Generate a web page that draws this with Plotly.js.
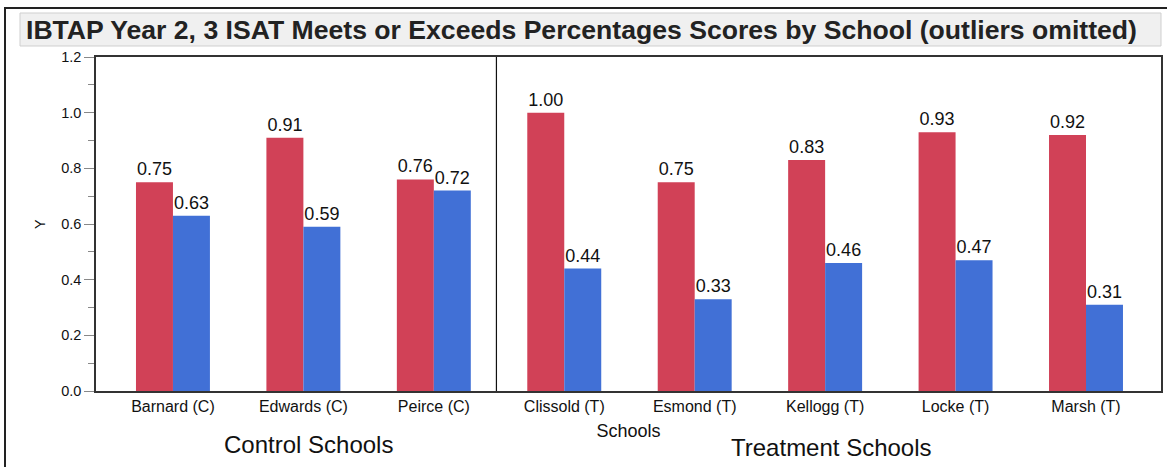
<!DOCTYPE html>
<html>
<head>
<meta charset="utf-8">
<script src="https://cdn.plot.ly/plotly-3.0.1.min.js"></script>
<style>html,body{margin:0;padding:0;background:#fff;}#chart{width:1167px;height:467px;}</style>
</head>
<body>
<div id="chart"></div>
<script>
const schools = ["Barnard (C)", "Edwards (C)", "Peirce (C)", "Clissold (T)", "Esmond (T)", "Kellogg (T)", "Locke (T)", "Marsh (T)"];
const year2 = [0.75, 0.91, 0.76, 1.00, 0.75, 0.83, 0.93, 0.92];
const year3 = [0.63, 0.59, 0.72, 0.44, 0.33, 0.46, 0.47, 0.31];
const yTicks = [0, 0.2, 0.4, 0.6, 0.8, 1.0, 1.2];

const FONT = "Liberation Sans, Arial, Helvetica, sans-serif";

const traces = [
  {type: "bar", name: "Year 2", x: schools, y: year2, marker: {color: "#D14157"},
   texttemplate: "%{y:.2f}", textposition: "outside", cliponaxis: false, constraintext: "none",
   textfont: {family: FONT, size: 18, color: "#111"}, hoverinfo: "x+y"},
  {type: "bar", name: "Year 3", x: schools, y: year3, marker: {color: "#4170D6"},
   texttemplate: "%{y:.2f}", textposition: "outside", cliponaxis: false, constraintext: "none",
   textfont: {family: FONT, size: 18, color: "#111"}, hoverinfo: "x+y"}
];

const layout = {
  width: 1167, height: 467,
  margin: {l: 96, r: 6, t: 57, b: 76, pad: 0},
  paper_bgcolor: "#fff", plot_bgcolor: "#fff",
  font: {family: FONT, size: 14, color: "#111"},
  showlegend: false,
  barmode: "group", bargap: 0.433, bargroupgap: 0,
  title: {text: "<b>IBTAP Year 2, 3 ISAT Meets or Exceeds Percentages Scores by School (outliers omitted)</b>",
          font: {family: FONT, size: 26.6, color: "#222"},
          x: 26/1167, xanchor: "left", y: 1 - 30/467, yanchor: "middle"},
  xaxis: {type: "category", range: [-0.59, 7.575], showgrid: false, zeroline: false,
          showline: true, linecolor: "#333", linewidth: 1.5, mirror: true, ticks: "",
          tickfont: {family: FONT, size: 16, color: "#111"},
          title: {text: "Schools", font: {family: FONT, size: 18, color: "#111"}, standoff: 10}},
  yaxis: {range: [0, 1.2], tickvals: yTicks, tickformat: ".1f", showgrid: false, zeroline: false,
          showline: true, linecolor: "#333", linewidth: 1.5, mirror: true,
          ticks: "outside", ticklen: 10, tickcolor: "#888", tickwidth: 1,
          minor: {dtick: 0.1, ticks: "outside", ticklen: 6, tickcolor: "#888", tickwidth: 1},
          tickfont: {family: FONT, size: 14.5, color: "#111"},
          title: {text: ""}},
  shapes: [
    {type: "rect", xref: "paper", yref: "paper",
     x0: (5 - 96) / 1065, x1: (1175 - 96) / 1065, y0: (391 - 475) / 334, y1: (391 - 8) / 334,
     line: {color: "#222", width: 2}, fillcolor: "rgba(0,0,0,0)", layer: "below"},
    {type: "rect", xref: "paper", yref: "paper",
     x0: (20 - 96) / 1065, x1: (1161 - 96) / 1065, y0: (391 - 46) / 334, y1: (391 - 13) / 334,
     line: {color: "#cfcfcf", width: 1}, fillcolor: "#f0f0f0", layer: "below"},
    {type: "line", xref: "x", yref: "paper", x0: 2.48, x1: 2.48, y0: 0, y1: 1,
     line: {color: "#111", width: 1.2}}
  ],
  annotations: [
    {text: "Y", xref: "paper", yref: "paper", x: (40 - 96) / 1065, y: 0.5, textangle: -90,
     showarrow: false, font: {family: FONT, size: 14.5, color: "#111"}, xanchor: "center", yanchor: "middle"},
    {text: "Control Schools", xref: "paper", yref: "paper", x: (308 - 96) / 1065, y: (391 - 444) / 334,
     showarrow: false, font: {family: FONT, size: 24, color: "#111"}, xanchor: "center", yanchor: "middle"},
    {text: "Treatment Schools", xref: "paper", yref: "paper", x: (831 - 96) / 1065, y: (391 - 447) / 334,
     showarrow: false, font: {family: FONT, size: 24, color: "#111"}, xanchor: "center", yanchor: "middle"}
  ]
};

Plotly.newPlot("chart", traces, layout, {displayModeBar: false, responsive: false});
</script>
</body>
</html>
